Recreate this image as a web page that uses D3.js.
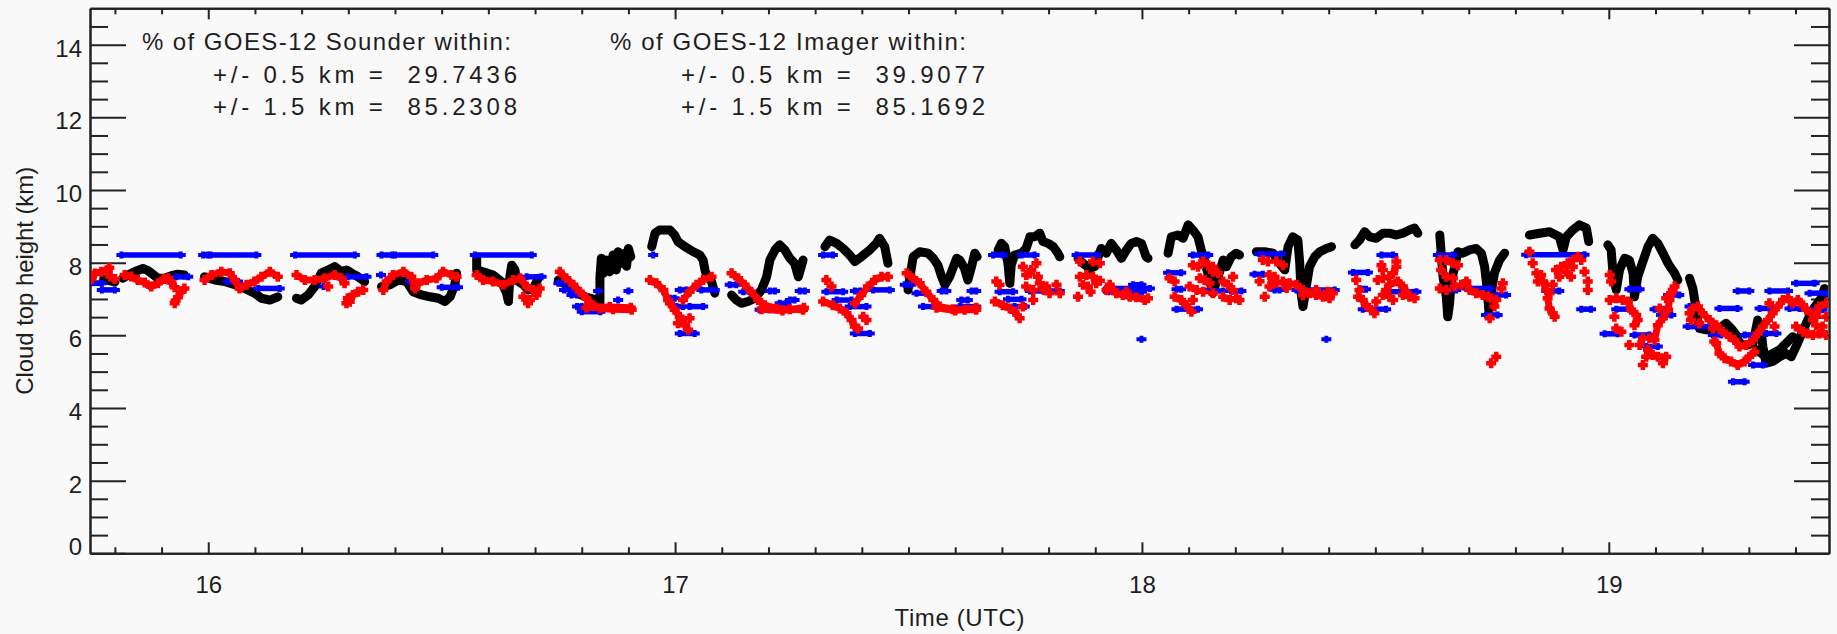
<!DOCTYPE html>
<html>
<head>
<meta charset="utf-8">
<title>Cloud top height</title>
<script src="https://d3js.org/d3.v7.min.js"></script>
<style>
    body { margin: 0; background: #f9f9f9; }
    svg { display: block; }
    text { font-family: "Liberation Sans", Arial, sans-serif; font-size: 24px; fill: #1e1e1e; }
</style>
</head>
<body>
<svg id="chart" width="1837" height="634"></svg>
<script>
// Tick values
var xMajor = [16, 17, 18, 19];
var yMajor = [0, 2, 4, 6, 8, 10, 12, 14];

// Statistics text
var thresholds = [0.5, 1.5];
var sounderPct = [29.7436, 85.2308];
var imagerPct = [39.9077, 85.1692];

// Black reference trace, one polyline per overpass segment [hour, km]
var blackTraces = [
    [[15.776,7.55],[15.79,7.5],[15.8,7.47]],
    [[15.817,7.57],[15.828,7.66],[15.842,7.75],[15.860,7.84],[15.871,7.78],[15.878,7.71],[15.892,7.57],[15.906,7.57],[15.921,7.64],[15.935,7.68],[15.949,7.66]],
    [[15.992,7.61],[16.014,7.52],[16.035,7.48],[16.057,7.39],[16.078,7.29],[16.099,7.16],[16.114,7.02],[16.132,6.97],[16.149,7.06]],
    [[16.189,7.02],[16.199,6.97],[16.214,7.11],[16.228,7.34],[16.242,7.71],[16.257,7.80],[16.271,7.89],[16.285,7.75],[16.296,7.80],[16.307,7.71],[16.321,7.61],[16.335,7.48]],
    [[16.371,7.34],[16.389,7.39],[16.407,7.52],[16.425,7.48],[16.439,7.20],[16.457,7.11],[16.475,7.06],[16.493,7.02],[16.507,6.93],[16.518,7.06],[16.528,7.39],[16.532,7.71]],
    [[16.575,8.12],[16.575,7.80],[16.589,7.75],[16.610,7.66],[16.628,7.48],[16.639,7.16],[16.643,6.93],[16.646,7.61],[16.650,7.93],[16.657,7.80],[16.660,7.52],[16.675,7.39],[16.685,7.25],[16.696,7.29],[16.707,7.57]],
    [[16.750,7.52],[16.767,7.39],[16.789,7.16],[16.810,7.05],[16.832,6.97],[16.839,6.88],[16.839,7.61],[16.842,8.12],[16.846,7.70],[16.853,8.07],[16.860,7.75],[16.867,8.21],[16.874,7.80],[16.878,8.30],[16.885,7.98],[16.892,8.26],[16.896,7.90],[16.900,8.39],[16.905,8.16]],
    [[16.950,8.44],[16.957,8.81],[16.967,8.90],[16.989,8.90],[16.999,8.76],[17.006,8.58],[17.021,8.44],[17.039,8.30],[17.053,8.21],[17.060,8.07],[17.064,7.80],[17.067,7.66],[17.078,7.48],[17.085,7.16]],
    [[17.121,7.11],[17.131,6.97],[17.142,6.88],[17.156,6.93],[17.171,7.02],[17.185,7.25],[17.196,7.61],[17.203,8.07],[17.214,8.35],[17.224,8.49],[17.235,8.35],[17.246,8.12],[17.256,7.98],[17.264,7.61],[17.271,7.93],[17.274,8.07]],
    [[17.321,8.44],[17.331,8.62],[17.346,8.53],[17.360,8.39],[17.374,8.21],[17.385,8.03],[17.399,8.16],[17.417,8.35],[17.431,8.53],[17.438,8.67],[17.449,8.44],[17.456,7.98]],
    [[17.499,7.25],[17.503,7.61],[17.510,8.16],[17.524,8.30],[17.542,8.26],[17.553,8.12],[17.563,7.93],[17.571,7.61],[17.578,7.39],[17.588,7.61],[17.603,8.12],[17.610,8.07],[17.620,7.84],[17.627,7.52],[17.635,7.89],[17.642,8.26],[17.647,8.16]],
    [[17.692,8.35],[17.699,8.53],[17.706,8.44],[17.713,7.98],[17.717,7.43],[17.720,7.93],[17.727,8.21],[17.742,8.26],[17.752,8.39],[17.760,8.71],[17.770,8.71],[17.781,8.81],[17.788,8.58],[17.799,8.53],[17.810,8.44],[17.820,8.26],[17.824,8.16]],
    [[17.863,8.12],[17.874,7.98],[17.888,7.84],[17.899,7.89],[17.906,8.16],[17.913,8.39],[17.924,8.26],[17.934,8.53],[17.945,8.35],[17.956,8.12],[17.967,8.35],[17.977,8.53],[17.988,8.58],[17.999,8.53],[18.009,8.16],[18.013,8.12]],
    [[18.056,8.26],[18.063,8.71],[18.077,8.76],[18.088,8.67],[18.099,9.04],[18.109,8.90],[18.120,8.71],[18.127,8.35],[18.134,8.07],[18.142,7.66],[18.152,7.16],[18.163,7.61],[18.174,8.07],[18.181,7.89],[18.191,8.16],[18.202,8.26],[18.209,8.21]],
    [[18.245,8.30],[18.263,8.30],[18.281,8.26],[18.295,7.98],[18.306,7.80],[18.313,8.44],[18.323,8.71],[18.334,8.62],[18.338,7.98],[18.341,7.16],[18.345,6.79],[18.352,7.34],[18.359,7.89],[18.370,8.16],[18.381,8.30],[18.395,8.39],[18.406,8.44]],
    [[18.456,8.49],[18.466,8.62],[18.477,8.85],[18.488,8.71],[18.502,8.67],[18.516,8.81],[18.530,8.81],[18.545,8.76],[18.559,8.81],[18.573,8.90],[18.584,8.95],[18.591,8.81]],
    [[18.638,8.76],[18.641,8.26],[18.645,7.61],[18.652,7.06],[18.655,6.51],[18.659,6.88],[18.662,7.43],[18.670,7.89],[18.677,8.30],[18.687,8.26],[18.702,8.35],[18.716,8.39],[18.727,8.26],[18.734,7.89],[18.739,7.34],[18.743,6.70],[18.748,7.16],[18.755,7.71],[18.766,8.07],[18.777,8.26]],
    [[18.830,8.76],[18.852,8.81],[18.873,8.85],[18.894,8.71],[18.902,8.35],[18.909,8.71],[18.923,8.90],[18.937,9.04],[18.952,8.95],[18.957,8.58]],
    [[18.998,8.49],[19.005,8.35],[19.009,7.71],[19.016,7.25],[19.023,7.80],[19.034,8.12],[19.044,8.07],[19.052,7.71],[19.055,7.06],[19.062,7.61],[19.073,8.03],[19.084,8.44],[19.094,8.67],[19.105,8.53],[19.116,8.26],[19.127,7.98],[19.134,7.84],[19.141,7.71],[19.148,7.52]],
    [[19.173,7.57],[19.180,7.29],[19.184,6.97],[19.187,6.70],[19.191,6.38],[19.194,6.19],[19.209,6.15],[19.223,6.15],[19.237,6.19],[19.251,6.33],[19.262,6.19],[19.273,6.01],[19.280,5.78],[19.294,5.73],[19.309,5.78],[19.319,6.42],[19.326,6.15],[19.330,5.69],[19.337,5.23],[19.351,5.28],[19.366,5.41],[19.380,5.50],[19.391,5.41],[19.401,5.69],[19.412,6.01],[19.423,6.33],[19.434,6.65],[19.444,6.83],[19.455,7.02],[19.462,7.29],[19.469,7.16]],
    [[19.316,5.60],[19.337,5.41],[19.351,5.50],[19.366,5.60],[19.380,5.78],[19.394,5.96]]
];

// GOES-12 Sounder (blue): runs of equal height [start hour, end hour, km] and single points
var blueRuns = [
    [15.745,15.772,7.43],[15.772,15.8,7.25],
    [15.814,15.941,8.21],[15.932,15.957,7.61],
    [15.989,15.999,8.21],[16.005,16.103,8.21],[16.107,16.153,7.29],[16.042,16.064,7.48],
    [16.186,16.314,8.21],[16.299,16.339,7.61],
    [16.371,16.394,8.21],[16.400,16.482,8.21],[16.500,16.535,7.32],
    [16.571,16.693,8.21],[16.682,16.714,7.61],
    [16.750,16.760,7.43],[16.762,16.775,7.25],[16.778,16.79,7.11],[16.79,16.80,6.79],[16.80,16.84,6.65],[16.84,16.905,6.72],
    [17.056,17.085,7.25],[17.010,17.024,7.25],[16.989,16.999,7.02],[17.031,17.060,6.79],[17.003,17.017,6.79],[17.010,17.042,6.05],
    [17.117,17.131,7.39],[17.146,17.160,7.20],[17.203,17.214,7.22],[17.267,17.278,7.22],[17.181,17.203,6.70],[17.246,17.256,6.97],[17.224,17.238,6.88],
    [17.317,17.338,8.21],[17.324,17.360,7.20],[17.346,17.378,6.97],[17.374,17.410,6.79],[17.385,17.396,7.22],[17.424,17.460,7.25],[17.385,17.417,6.05],
    [17.492,17.506,7.39],[17.517,17.538,7.16],[17.531,17.560,6.79],[17.571,17.581,7.22],[17.610,17.645,6.79],[17.613,17.627,6.97],[17.635,17.645,7.22],
    [17.681,17.702,8.21],[17.742,17.770,8.21],[17.695,17.724,7.20],[17.713,17.742,6.99],[17.727,17.749,6.79],[17.760,17.824,7.22],
    [17.860,17.902,8.21],[17.927,18.017,7.29],[17.927,18.000,7.20],[17.981,17.999,7.39],
    [18.109,18.142,8.21],[18.056,18.084,7.72],[18.074,18.084,7.27],[18.074,18.120,6.72],[18.134,18.174,7.22],[18.191,18.213,7.22],
    [18.252,18.298,8.24],[18.241,18.259,7.68],[18.331,18.413,7.25],[18.284,18.295,7.25],
    [18.513,18.538,8.21],[18.452,18.484,7.73],[18.473,18.480,7.27],[18.530,18.588,7.20],[18.473,18.523,6.72],
    [18.634,18.666,8.21],[18.652,18.673,7.25],[18.695,18.745,7.29],[18.759,18.780,7.11],[18.737,18.762,6.56],
    [18.823,18.948,8.22],[18.866,18.894,7.22],[18.941,18.962,6.72],
    [19.044,19.066,7.27],[19.016,19.044,6.72],[18.991,19.019,6.04],[19.055,19.087,6.01],[19.080,19.105,5.69],[19.098,19.116,6.72],[19.112,19.134,6.56],[19.127,19.151,7.11],
    [19.173,19.187,6.79],[19.169,19.216,6.24],[19.223,19.241,6.01],[19.237,19.276,6.74],[19.276,19.301,7.22],[19.266,19.291,4.72],[19.291,19.312,6.01],[19.309,19.330,5.18],[19.323,19.351,6.74],[19.337,19.359,6.05],[19.344,19.384,7.22],[19.401,19.441,7.43],[19.430,19.466,7.16],[19.387,19.409,6.74],[19.437,19.458,6.70]
];
var bluePoints = [[15.876,7.34],[16.247,7.34],[16.37,7.66],[16.432,7.48],[16.835,7.22],[16.9,7.22],[16.878,6.97],[16.953,8.21],[17.999,5.89],[18.395,5.89]];

// GOES-12 Imager (red): strands and scattered points [hour, km]
var redTraces = [
    [[15.745,7.62],[15.757,7.70],[15.771,7.75],[15.785,7.80],[15.79,7.62],[15.8,7.55]],
    [[15.821,7.66],[15.835,7.62],[15.849,7.52],[15.864,7.45],[15.878,7.34],[15.892,7.43],[15.905,7.55],[15.914,7.57],[15.921,7.45],[15.928,7.32]],
    [[15.949,7.29],[15.942,7.2],[15.935,7.05],[15.93,6.95],[15.928,6.88]],
    [[15.992,7.52],[16.007,7.66],[16.028,7.75],[16.046,7.71],[16.057,7.52],[16.067,7.29],[16.082,7.39],[16.099,7.48],[16.114,7.61],[16.132,7.75],[16.149,7.61]],
    [[16.189,7.66],[16.207,7.52],[16.228,7.52],[16.249,7.57],[16.271,7.66],[16.285,7.57],[16.292,7.43]],
    [[16.296,6.88],[16.299,7.02],[16.310,7.11],[16.321,7.20],[16.332,7.25]],
    [[16.375,7.25],[16.382,7.48],[16.396,7.66],[16.418,7.75],[16.435,7.61],[16.443,7.29],[16.450,7.43],[16.468,7.52],[16.489,7.57],[16.503,7.75],[16.521,7.66],[16.532,7.61]],
    [[16.575,7.66],[16.589,7.52],[16.610,7.48],[16.632,7.39],[16.653,7.52],[16.668,7.57],[16.682,7.34],[16.696,7.25]],
    [[16.753,7.75],[16.767,7.57],[16.782,7.39],[16.796,7.20],[16.810,7.02],[16.825,6.83],[16.839,6.74],[16.867,6.72],[16.907,6.70]],
    [[16.81,6.76],[16.86,6.78],[16.905,6.76]],
    [[16.946,7.52],[16.960,7.43],[16.975,7.25],[16.985,6.97],[16.989,6.88],[16.999,6.70],[17.010,6.51],[17.021,6.28],[17.028,6.15]],
    [[17.017,6.97],[17.031,7.20],[17.046,7.39],[17.060,7.52],[17.078,7.61]],
    [[17.121,7.71],[17.135,7.57],[17.149,7.39],[17.163,7.20],[17.178,6.97],[17.192,6.83],[17.217,6.74],[17.246,6.72],[17.274,6.70]],
    [[17.185,6.72],[17.23,6.68],[17.276,6.76]],
    [[17.317,6.93],[17.338,6.83],[17.353,6.74],[17.367,6.61],[17.378,6.42],[17.385,6.24],[17.392,6.19]],
    [[17.385,6.88],[17.399,7.11],[17.413,7.34],[17.428,7.52],[17.442,7.61],[17.456,7.61]],
    [[17.496,7.71],[17.510,7.57],[17.524,7.43],[17.538,7.20],[17.553,6.97],[17.567,6.79],[17.595,6.72],[17.620,6.70],[17.645,6.70]],
    [[17.56,6.76],[17.60,6.68],[17.645,6.76]],
    [[17.685,6.93],[17.702,6.83],[17.717,6.74],[17.727,6.65],[17.738,6.47]],
    [[17.931,7.39],[17.945,7.16],[17.959,7.11],[17.974,7.06],[17.988,7.05],[18.006,6.97],[18.013,7.02]],
    [[18.070,7.06],[18.084,6.97],[18.095,6.83],[18.106,6.65]],
    [[18.302,7.48],[18.316,7.43],[18.331,7.39],[18.345,7.25],[18.359,7.16],[18.373,7.11],[18.388,7.06],[18.402,7.02]],
    [[18.463,7.06],[18.473,6.97],[18.480,6.83],[18.491,6.70],[18.498,6.61]],
    [[18.530,7.39],[18.548,7.48],[18.559,7.34],[18.566,7.20],[18.573,7.06],[18.584,7.02]],
    [[18.684,7.39],[18.695,7.48],[18.702,7.25],[18.716,7.16],[18.730,7.11],[18.741,7.06],[18.748,7.02],[18.759,6.97]],
    [[18.859,7.48],[18.866,7.25],[18.873,7.16],[18.869,7.02],[18.873,6.74],[18.880,6.61],[18.884,6.51]],
    [[19.002,6.97],[19.016,7.02],[19.030,6.97],[19.041,6.93],[19.048,6.70],[19.059,6.56],[19.062,6.42],[19.055,6.28]],
    [[19.080,5.41],[19.094,5.46],[19.105,5.41],[19.123,5.41]],
    [[19.098,5.87],[19.105,6.28],[19.116,6.47],[19.127,6.70],[19.130,6.97],[19.137,7.25],[19.141,7.34]],
    [[19.173,6.61],[19.180,6.74],[19.191,6.79],[19.201,6.61],[19.216,6.42],[19.230,6.28],[19.244,6.10],[19.259,5.96],[19.269,5.87],[19.280,5.69],[19.294,5.73],[19.309,5.87],[19.319,6.05],[19.330,6.24],[19.341,6.42],[19.351,6.61],[19.362,6.79],[19.373,6.97],[19.384,7.02],[19.394,6.88],[19.405,6.97],[19.416,6.83],[19.423,6.70],[19.434,6.61],[19.444,6.51],[19.451,6.79],[19.466,6.88]],
    [[19.230,5.78],[19.237,5.50],[19.248,5.37],[19.262,5.28],[19.276,5.18],[19.291,5.28],[19.301,5.41],[19.312,5.55]],
    [[19.401,6.24],[19.416,6.10],[19.426,6.05],[19.437,6.01],[19.451,6.05],[19.466,6.01]]
];
var redPoints = [
    [15.75,7.55],[15.788,7.86],[16.257,7.34],[16.303,6.92],
    [16.675,7.06],[16.689,6.97],[16.685,6.88],[16.703,7.11],[16.710,7.29],
    [17.031,6.47],[17.006,6.33],[17.324,7.52],[17.335,7.34],[17.403,6.51],[17.410,6.42],
    [17.688,7.48],[17.695,7.39],[17.745,7.89],[17.752,7.66],[17.763,7.80],[17.774,7.98],[17.777,7.61],[17.752,7.34],[17.767,7.25],[17.781,7.43],[17.795,7.34],[17.802,7.16],[17.817,7.39],[17.824,7.16],[17.767,6.97],[17.745,6.79],[17.760,7.70],[17.79,7.25],
    [17.867,8.03],[17.895,8.03],[17.910,7.98],[17.867,7.61],[17.881,7.66],[17.895,7.61],[17.874,7.39],[17.884,7.34],[17.902,7.43],[17.863,7.06],[17.924,7.25],[17.938,7.25],[17.967,7.20],[17.91,7.50],[17.89,7.20],
    [18.059,7.57],[18.070,7.48],[18.109,7.93],[18.120,7.89],[18.131,8.03],[18.142,7.93],[18.152,7.75],[18.163,7.71],[18.124,7.57],[18.134,7.52],[18.145,7.43],[18.174,7.48],[18.184,7.39],[18.195,7.61],[18.117,7.25],[18.131,7.20],[18.152,7.16],[18.174,7.06],[18.188,6.97],[18.202,7.02],[18.109,6.97],[18.102,7.34],[18.152,7.89],[18.195,7.25],[18.209,6.97],
    [18.252,7.49],[18.263,7.06],[18.259,8.07],[18.270,8.03],[18.288,8.03],[18.302,7.93],[18.273,7.66],[18.284,7.61],[18.273,7.34],[18.288,7.43],[18.409,7.16],[18.373,7.25],[18.398,7.20],[18.28,7.50],[18.31,7.30],[18.345,7.10],
    [18.459,7.52],[18.466,7.25],[18.502,6.93],[18.513,7.93],[18.516,7.80],[18.530,7.61],[18.545,7.89],[18.545,8.03],[18.538,7.71],[18.516,7.57],[18.505,7.52],[18.523,7.25],[18.516,7.11],[18.538,6.97],[18.530,7.06],[18.559,7.11],
    [18.638,8.07],[18.652,8.07],[18.666,7.98],[18.677,7.93],[18.641,7.80],[18.652,7.61],[18.666,7.57],[18.638,7.29],[18.652,7.25],[18.670,7.34],[18.770,7.29],[18.773,7.43],[18.755,6.79],[18.745,6.47],[18.759,5.41],[18.748,5.23],
    [18.830,8.30],[18.837,7.98],[18.845,7.71],[18.848,7.48],[18.855,7.66],[18.887,7.80],[18.898,7.89],[18.909,7.75],[18.919,7.61],[18.894,7.61],[18.923,8.07],[18.934,8.16],[18.941,8.07],[18.948,7.75],[18.955,7.48],[18.955,7.25],[18.923,7.89],[18.912,7.98],[18.866,7.39],[18.880,7.39],
    [19.002,7.66],[19.005,7.48],[19.012,6.51],[19.016,6.19],[19.027,6.10],[19.044,5.73],[19.066,5.73],[19.073,5.92],[19.087,5.92],[19.084,5.60],[19.116,5.23],[19.073,5.18],[19.134,7.16],[19.123,7.02],[19.109,6.74],
    [19.176,6.42],[19.194,6.33],[19.226,5.83],[19.223,6.19],[19.355,6.24],[19.344,6.88],[19.437,6.42],[19.444,6.28],[19.458,6.24],[19.466,6.51]
];

// Plot box and scales
var box = {left: 90, right: 1829, top: 8.3, bottom: 553.3};
var x = d3.scaleLinear().domain([15.7467, 19.4717]).range([box.left, box.right]);
var y = d3.scaleLinear().domain([0, 15]).range([box.bottom, box.top]);

var svg = d3.select("#chart");

// minor ticks every 0.1 h and every 0.5 km
var xMinor = d3.range(158, 195).filter(function(d) { return d % 10 !== 0; }).map(function(d) { return d / 10; });
var yMinor = d3.range(1, 30).filter(function(d) { return d % 4 !== 0; }).map(function(d) { return d / 2; });

function frameAxis(axis, transform) {
    var g = svg.append("g").attr("transform", transform).attr("color", "#222").call(axis);
    g.selectAll("line, path").attr("stroke-width", 2);
    return g;
}

// bottom
var gx = frameAxis(d3.axisBottom(x).tickValues(xMajor).tickSize(-11).tickSizeOuter(0).tickPadding(23).tickFormat(d3.format("d")),
    "translate(0," + box.bottom + ")");
frameAxis(d3.axisBottom(x).tickValues(xMinor).tickSize(-6).tickSizeOuter(0).tickFormat(""), "translate(0," + box.bottom + ")");
// top
frameAxis(d3.axisTop(x).tickValues(xMajor).tickSize(-11).tickSizeOuter(0).tickFormat(""), "translate(0," + box.top + ")");
frameAxis(d3.axisTop(x).tickValues(xMinor).tickSize(-6).tickSizeOuter(0).tickFormat(""), "translate(0," + box.top + ")");
// left
var gy = frameAxis(d3.axisLeft(y).tickValues(yMajor).tickSize(-36).tickSizeOuter(0).tickPadding(8).tickFormat(d3.format("d")),
    "translate(" + box.left + ",0)");
frameAxis(d3.axisLeft(y).tickValues(yMinor).tickSize(-18).tickSizeOuter(0).tickFormat(""), "translate(" + box.left + ",0)");
// right
frameAxis(d3.axisRight(y).tickValues(yMajor).tickSize(-35).tickSizeOuter(0).tickFormat(""), "translate(" + box.right + ",0)");
frameAxis(d3.axisRight(y).tickValues(yMinor).tickSize(-18).tickSizeOuter(0).tickFormat(""), "translate(" + box.right + ",0)");

gx.selectAll("text").attr("font-size", null).attr("font-family", null);
gy.selectAll("text").attr("font-size", null).attr("font-family", null)
    .attr("dy", function(d) { return d === 0 ? "0.07em" : "0.48em"; });

// clip the data to the plot box
svg.append("clipPath").attr("id", "plotclip")
    .append("rect")
    .attr("x", box.left + 1).attr("y", box.top + 1)
    .attr("width", box.right - box.left - 2).attr("height", box.bottom - box.top - 2);

var plot = svg.append("g").attr("clip-path", "url(#plotclip)");

function plus(w, h, a) {
    return "M" + (-w / 2) + "," + (-a / 2) + "H" + (w / 2) + "V" + (a / 2) + "H" + (-w / 2) + "Z" +
           "M" + (-a / 2) + "," + (-h / 2) + "H" + (a / 2) + "V" + (h / 2) + "H" + (-a / 2) + "Z";
}

var line = d3.line()
    .x(function(d) { return x(d[0]); })
    .y(function(d) { return y(d[1]); });

// black trace
plot.selectAll(".black").data(blackTraces).join("path")
    .attr("class", "black")
    .attr("d", line)
    .attr("fill", "none")
    .attr("stroke", "#000")
    .attr("stroke-width", 9)
    .attr("stroke-linejoin", "round")
    .attr("stroke-linecap", "round");

// sounder (blue)
var blueMark = plus(10, 7, 4);
plot.selectAll(".brun").data(blueRuns).join("line")
    .attr("class", "brun")
    .attr("x1", function(d) { return x(d[0]); })
    .attr("x2", function(d) { return x(d[1]); })
    .attr("y1", function(d) { return y(d[2]); })
    .attr("y2", function(d) { return y(d[2]); })
    .attr("stroke", "#0000ff")
    .attr("stroke-width", 5.5);

var blueEnds = [];
blueRuns.forEach(function(d) { blueEnds.push([d[0], d[2]], [d[1], d[2]]); });
plot.selectAll(".bpt").data(blueEnds.concat(bluePoints)).join("path")
    .attr("class", "bpt")
    .attr("d", blueMark)
    .attr("transform", function(d) { return "translate(" + x(d[0]) + "," + y(d[1]) + ")"; })
    .attr("fill", "#0000ff");

// imager (red)
plot.selectAll(".red").data(redTraces).join("path")
    .attr("class", "red")
    .attr("d", line)
    .attr("fill", "none")
    .attr("stroke", "#ff0000")
    .attr("stroke-width", 7)
    .attr("stroke-linejoin", "round");

var redMark = plus(10, 10, 4.5);
plot.selectAll(".rpt").data(d3.merge(redTraces).concat(redPoints)).join("path")
    .attr("class", "rpt")
    .attr("d", redMark)
    .attr("transform", function(d) { return "translate(" + x(d[0]) + "," + y(d[1]) + ")"; })
    .attr("fill", "#ff0000");

// statistics text
var blocks = [
    {title: "% of GOES-12 Sounder within:", pct: sounderPct, x0: 142, x1: 213, w0: 369},
    {title: "% of GOES-12 Imager within:", pct: imagerPct, x0: 610, x1: 681, w0: 356}
];
var baselines = [50, 83, 115];
blocks.forEach(function(b) {
    svg.append("text")
        .attr("x", b.x0).attr("y", baselines[0])
        .attr("textLength", b.w0).attr("lengthAdjust", "spacing")
        .style("white-space", "pre")
        .text(b.title);
    b.pct.forEach(function(p, i) {
        svg.append("text")
            .attr("x", b.x1).attr("y", baselines[i + 1])
            .attr("textLength", 304).attr("lengthAdjust", "spacing")
            .style("white-space", "pre")
            .text("+/- " + thresholds[i].toFixed(1) + " km =  " + p.toFixed(4));
    });
});

// axis titles
svg.append("text")
    .attr("x", (box.left + box.right) / 2).attr("y", 626)
    .attr("text-anchor", "middle")
    .attr("textLength", 130).attr("lengthAdjust", "spacing")
    .text("Time (UTC)");

svg.append("text")
    .attr("transform", "translate(33," + ((box.top + box.bottom) / 2) + ") rotate(-90)")
    .attr("text-anchor", "middle")
    .attr("textLength", 228).attr("lengthAdjust", "spacing")
    .text("Cloud top height (km)");
</script>
</body>
</html>
